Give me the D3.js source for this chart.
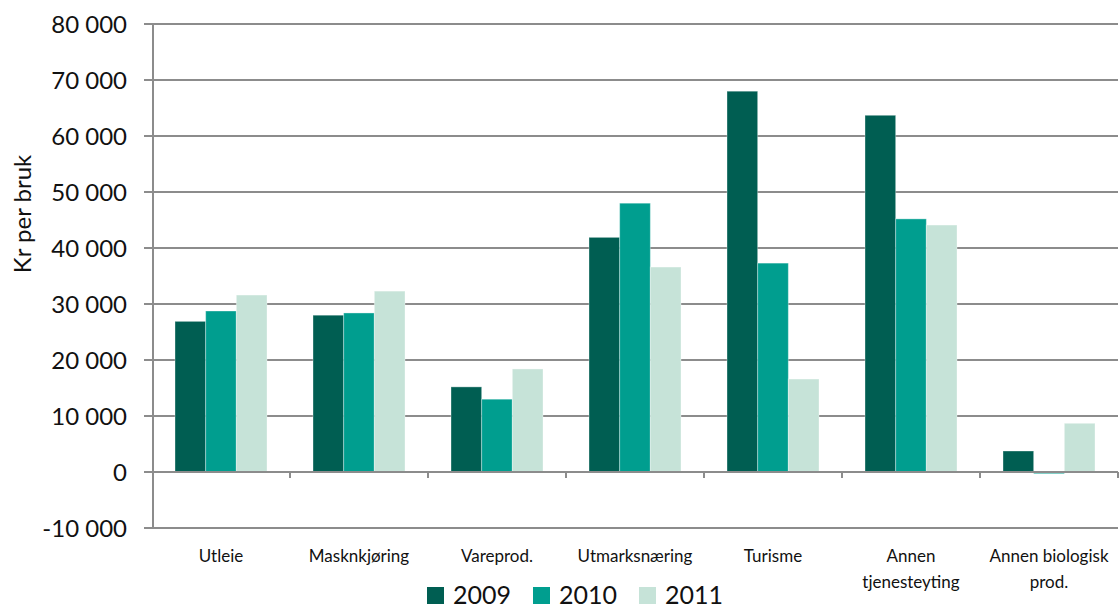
<!DOCTYPE html>
<html lang="no">
<head>
  <meta charset="UTF-8">
  <title>Kr per bruk</title>
  <script src="https://cdn.jsdelivr.net/npm/d3@7/dist/d3.min.js"></script>
  <style>
    * { margin: 0; padding: 0; }
    body { background: #fff; }
    text { font-family: Lato, "Open Sans", sans-serif; fill: #111; }
  </style>
</head>
<body>
  <div id="chart"></div>
  <script>
  // kategorier (linjeskift med \n)
  var categories = ["Utleie", "Masknkjøring", "Vareprod.", "Utmarksnæring", "Turisme",
                    "Annen\ntjenesteyting", "Annen biologisk\nprod."];
  var years = ["2009", "2010", "2011"];
  var v2009 = [26900, 28000, 15200, 41900, 68000, 63700, 3750];
  var v2010 = [28750, 28400, 13000, 48000, 37300, 45200, -300];
  var v2011 = [31600, 32300, 18400, 36600, 16600, 44100, 8700];
  var yTicks = [-10000, 0, 10000, 20000, 30000, 40000, 50000, 60000, 70000, 80000];

  var series = [v2009, v2010, v2011];
  var colors = ["#005E52", "#009E8F", "#C6E3D8"];

  var width = 1120, height = 608;
  var svg = d3.select("#chart").append("svg")
      .attr("width", width)
      .attr("height", height);

  var x0 = d3.scaleBand().domain(categories).range([152, 1118]);
  var x1 = d3.scaleBand().domain(years).range([0, x0.bandwidth()]).paddingOuter(0.75);
  var y = d3.scaleLinear().domain([-10000, 80000]).range([528, 24]);

  var fmt = function (d) { return d3.format(",")(d).replace(/,/g, " ").replace("−", "-"); };

  // rutenett
  svg.append("g").selectAll("line")
    .data(yTicks)
    .enter().append("line")
      .attr("x1", 144).attr("x2", 1118)
      .attr("y1", function (d) { return y(d); })
      .attr("y2", function (d) { return y(d); })
      .attr("stroke", "#8c8c8c")
      .attr("stroke-width", 2);

  // y-akse tekst
  svg.append("g").selectAll("text")
    .data(yTicks)
    .enter().append("text")
      .attr("x", 127)
      .attr("y", function (d) { return y(d); })
      .attr("dy", "0.36em")
      .attr("text-anchor", "end")
      .style("font-size", "24px")
      .text(fmt);

  // søyler
  var groups = svg.append("g").selectAll("g")
    .data(categories)
    .enter().append("g")
      .attr("transform", function (d) { return "translate(" + x0(d) + ",0)"; });

  groups.selectAll("rect")
    .data(function (d, i) {
      return years.map(function (yr, j) { return { year: yr, value: series[j][i], k: j }; });
    })
    .enter().append("rect")
      .attr("x", function (d) { return x1(d.year); })
      .attr("width", x1.bandwidth())
      .attr("y", function (d) { return y(Math.max(0, d.value)); })
      .attr("height", function (d) { return Math.abs(y(d.value) - y(0)); })
      .attr("fill", function (d) { return colors[d.k]; })
      .attr("stroke", "rgba(255,255,255,0.35)")
      .attr("stroke-width", 1);

  // y-akse linje
  svg.append("line")
    .attr("x1", 153).attr("x2", 153)
    .attr("y1", 24).attr("y2", 529)
    .attr("stroke", "#8c8c8c")
    .attr("stroke-width", 2);

  // x-akse ved null
  svg.append("line")
    .attr("x1", 144).attr("x2", 1118)
    .attr("y1", y(0)).attr("y2", y(0))
    .attr("stroke", "#8c8c8c")
    .attr("stroke-width", 2);

  var bounds = categories.map(function (d) { return x0(d) + x0.bandwidth(); });
  svg.append("g").selectAll("line")
    .data(bounds)
    .enter().append("line")
      .attr("x1", function (d) { return d; })
      .attr("x2", function (d) { return d; })
      .attr("y1", y(0)).attr("y2", y(0) + 6)
      .attr("stroke", "#8c8c8c")
      .attr("stroke-width", 2);

  // kategori-etiketter
  var labels = svg.append("g").selectAll("text")
    .data(categories)
    .enter().append("text")
      .attr("text-anchor", "middle")
      .attr("transform", function (d) { return "translate(" + (x0(d) + x0.bandwidth() / 2) + ",562)"; })
      .style("font-size", "17px");
  labels.selectAll("tspan")
    .data(function (d) { return d.split("\n"); })
    .enter().append("tspan")
      .attr("x", 0)
      .attr("dy", function (d, i) { return i === 0 ? 0 : 26; })
      .text(function (d) { return d; });

  // y-akse tittel
  svg.append("text")
    .attr("transform", "translate(31,214) rotate(-90)")
    .attr("text-anchor", "middle")
    .style("font-size", "24px")
    .text("Kr per bruk");

  // legend
  var legendX = [427, 533, 639];
  var legend = svg.append("g").selectAll("g")
    .data(years)
    .enter().append("g")
      .attr("transform", function (d, i) { return "translate(" + legendX[i] + ",587)"; });
  legend.append("rect")
    .attr("width", 17).attr("height", 17)
    .attr("fill", function (d, i) { return colors[i]; });
  legend.append("text")
    .attr("x", 26).attr("y", 17)
    .style("font-size", "25px")
    .text(function (d) { return d; });
  </script>
</body>
</html>
